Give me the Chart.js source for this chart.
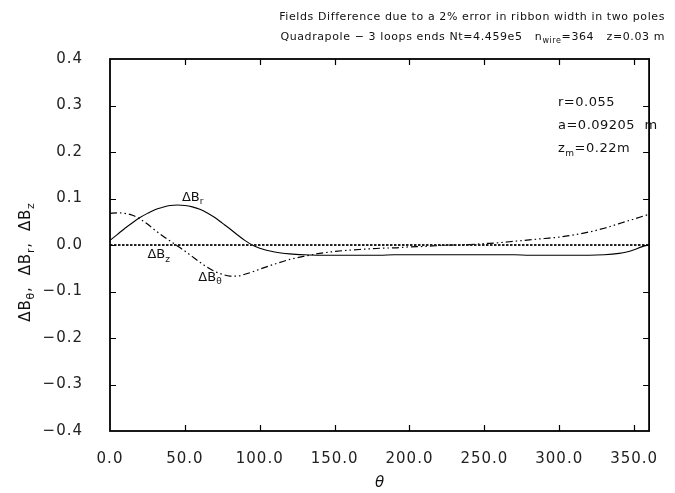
<!DOCTYPE html>
<html>
<head>
<meta charset="utf-8">
<script src="https://cdn.jsdelivr.net/npm/chart.js@4.4.1/dist/chart.umd.min.js"></script>
<style>
  html, body { margin: 0; padding: 0; background: #fff; }
</style>
</head>
<body>
<canvas id="chart" width="675" height="493"></canvas>
<script>
// angle samples (deg)
const theta = [0,5,10,15,20,25,30,35,40,45,50,55,60,65,70,75,80,85,90,95,100,
               110,120,130,140,150,160,170,180,190,200,210,220,230,240,250,260,270,280,290,300,
               310,320,330,340,345,350,355,360];

const dBr = [0.010,0.023,0.036,0.048,0.059,0.068,0.076,0.081,0.085,0.086,0.085,0.082,0.077,0.069,0.059,0.047,0.035,0.022,0.010,0.000,-0.007,
             -0.015,-0.019,-0.021,-0.022,-0.022,-0.022,-0.022,-0.022,-0.021,-0.021,-0.021,-0.021,-0.021,-0.021,-0.021,-0.021,-0.021,-0.022,-0.022,-0.022,
             -0.022,-0.022,-0.021,-0.018,-0.015,-0.010,-0.004,0.000];

const dBtheta = [0.068,0.069,0.068,0.064,0.056,0.045,0.032,0.020,0.009,-0.002,-0.013,-0.025,-0.037,-0.048,-0.057,-0.063,-0.067,-0.067,-0.063,-0.058,-0.052,
                 -0.041,-0.031,-0.024,-0.018,-0.014,-0.011,-0.009,-0.007,-0.006,-0.004,-0.003,-0.001,0.000,0.001,0.003,0.005,0.008,0.011,0.014,0.017,
                 0.022,0.028,0.036,0.046,0.051,0.056,0.061,0.066];

const dBz = [0,0,0,0,0,0,0,0,0,0,0,0,0,0,0,0,0,0,0,0,0,
             0,0,0,0,0,0,0,0,0,0,0,0,0,0,0,0,0,0,0,0,
             0,0,0,0,0,0,0,0];

const xTicks = [0,50,100,150,200,250,300,350];
const yTicks = [-0.4,-0.3,-0.2,-0.1,0.0,0.1,0.2,0.3,0.4];

const titleLines = [
  [{t:'Fields Difference due to a 2% error in ribbon width in two poles'}],
  [{t:'Quadrapole \u2212 3 loops ends Nt=4.459e5   n'},{t:'wire',sub:true},{t:'=364   z=0.03 m'}]
];
const infoLines = [
  [{t:'r=0.055'}],
  [{t:'a=0.09205  m'}],
  [{t:'z'},{t:'m',sub:true},{t:'=0.22m'}]
];
const yTitle = [{t:'\u0394B'},{t:'\u03b8',sub:true},{t:',  \u0394B'},{t:'r',sub:true},{t:',  \u0394B'},{t:'z',sub:true}];

// curve labels, anchored in data units
const curveLabels = [
  {x:48, y:0.095, parts:[{t:'\u0394B'},{t:'r',sub:true}]},
  {x:25, y:-0.028, parts:[{t:'\u0394B'},{t:'z',sub:true}]},
  {x:59, y:-0.077, parts:[{t:'\u0394B'},{t:'\u03b8',sub:true}]}
];

const FONT = "'DejaVu Sans', sans-serif";
const INK = '#111';

function pts(ys) {
  return theta.map((t, i) => ({x: t, y: ys[i]}));
}

function drawParts(ctx, parts, x, y, size, align, spacing) {
  ctx.letterSpacing = (spacing || 0) + 'px';
  ctx.textAlign = 'left';
  ctx.textBaseline = 'alphabetic';
  let w = 0;
  parts.forEach(p => {
    ctx.font = (p.sub ? Math.round(size * 0.7) : size) + 'px ' + FONT;
    w += ctx.measureText(p.t).width;
  });
  let cx = align === 'right' ? x - w : align === 'center' ? x - w / 2 : x;
  parts.forEach(p => {
    ctx.font = (p.sub ? Math.round(size * 0.7) : size) + 'px ' + FONT;
    ctx.fillText(p.t, cx, y + (p.sub ? size * 0.28 : 0));
    cx += ctx.measureText(p.t).width;
  });
}

const spacingPlugin = {
  id: 'spacing',
  beforeDraw(chart) {
    chart.ctx.letterSpacing = '1px';
  }
};

const framePlugin = {
  id: 'frame',
  afterDraw(chart) {
    const ctx = chart.ctx;
    const a = chart.chartArea;
    const xs = chart.scales.x, ys = chart.scales.y;
    ctx.save();
    ctx.strokeStyle = '#000';
    ctx.lineWidth = 1.8;
    ctx.strokeRect(a.left, a.top, a.right - a.left, a.bottom - a.top);
    ctx.lineWidth = 1.2;
    ctx.beginPath();
    xTicks.forEach(v => {
      const px = Math.round(xs.getPixelForValue(v)) + 0.5;
      if (px <= a.left + 2) return;
      ctx.moveTo(px, a.bottom); ctx.lineTo(px, a.bottom - 6);
      ctx.moveTo(px, a.top); ctx.lineTo(px, a.top + 6);
    });
    yTicks.forEach(v => {
      const py = Math.round(ys.getPixelForValue(v)) + 0.5;
      if (py <= a.top + 2 || py >= a.bottom - 2) return;
      ctx.moveTo(a.left, py); ctx.lineTo(a.left + 6, py);
      ctx.moveTo(a.right, py); ctx.lineTo(a.right - 6, py);
    });
    ctx.stroke();

    ctx.fillStyle = INK;
    titleLines.forEach((line, i) => drawParts(ctx, line, 665, 20 + i * 20, 11, 'right', 0.6));
    infoLines.forEach((line, i) => drawParts(ctx, line, 558, 106 + i * 23, 13, 'left', 0.5));
    curveLabels.forEach(l => {
      drawParts(ctx, l.parts, xs.getPixelForValue(l.x), ys.getPixelForValue(l.y), 13, 'left', 0);
    });

    // axis titles
    ctx.font = 'italic 15px ' + FONT;
    ctx.letterSpacing = '0px';
    ctx.textAlign = 'center';
    ctx.textBaseline = 'alphabetic';
    ctx.fillText('\u03b8', (a.left + a.right) / 2, 487);

    ctx.translate(30, 262);
    ctx.rotate(-Math.PI / 2);
    drawParts(ctx, yTitle, 0, 0, 15, 'center', 0.8);
    ctx.restore();
  }
};

new Chart(document.getElementById('chart'), {
  type: 'line',
  data: {
    datasets: [
      {
        label: 'dBz',
        data: pts(dBz),
        borderColor: '#222',
        borderWidth: 2,
        borderDash: [2.5, 1.5],
        pointRadius: 0,
        tension: 0
      },
      {
        label: 'dBr',
        data: pts(dBr),
        borderColor: '#000',
        borderWidth: 1.1,
        pointRadius: 0,
        cubicInterpolationMode: 'monotone'
      },
      {
        label: 'dBtheta',
        data: pts(dBtheta),
        borderColor: '#000',
        borderWidth: 1.2,
        borderDash: [7, 3, 1.5, 3, 1.5, 3],
        pointRadius: 0,
        cubicInterpolationMode: 'monotone'
      }
    ]
  },
  options: {
    responsive: false,
    devicePixelRatio: 1,
    animation: false,
    layout: { padding: { top: 59, right: 15, left: 0, bottom: 0 } },
    plugins: {
      legend: { display: false },
      tooltip: { enabled: false },
      title: { display: false }
    },
    scales: {
      x: {
        type: 'linear',
        min: 0,
        max: 360,
        afterBuildTicks: s => { s.ticks = xTicks.map(v => ({value: v})); },
        afterFit: s => { s.height = 62; },
        grid: { display: false, drawTicks: false },
        border: { display: false },
        ticks: {
          autoSkip: false,
          maxRotation: 0,
          padding: 19,
          color: '#222',
          font: { family: FONT, size: 15 },
          callback: v => v.toFixed(1)
        }
      },
      y: {
        type: 'linear',
        min: -0.4,
        max: 0.4,
        afterBuildTicks: s => { s.ticks = yTicks.map(v => ({value: v})); },
        afterFit: s => { s.width = 110; },
        grid: { display: false, drawTicks: false },
        border: { display: false },
        ticks: {
          autoSkip: false,
          padding: 27,
          color: '#222',
          font: { family: FONT, size: 15 },
          callback: v => (v < -1e-9 ? '\u2212' : '') + Math.abs(v).toFixed(1)
        }
      }
    }
  },
  plugins: [spacingPlugin, framePlugin]
});
</script>
</body>
</html>
